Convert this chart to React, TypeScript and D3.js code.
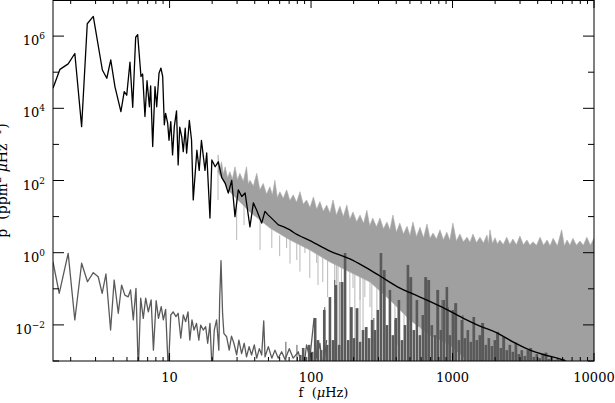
import * as d3 from "d3";

// black spectrum (low-frequency part and smooth fit)
const blackF = [1.5, 1.68, 1.92, 2.14, 2.39, 2.62, 2.89, 3.35, 3.6, 3.84, 4.11, 4.53, 4.78, 4.98, 5.25, 5.49, 5.76, 5.95, 6.28, 6.45, 6.7, 6.93, 7.2, 7.35, 7.6, 7.89, 8.11, 8.42, 8.69, 8.94, 9.18, 9.38, 9.7, 9.91, 10.2, 10.5, 10.8, 11.2, 11.5, 11.8, 12.2, 12.5, 12.9, 13.2, 13.8, 14.3, 14.7, 15.6, 16.2, 16.8, 17.8, 18.3, 19.3, 19.9, 21.0, 22.1, 23.4, 24.7, 26.0, 27.5, 29.0, 30.6, 32.4, 34.2, 37.0, 39.1, 41.3, 44.8, 47.2, 49.9, 54.1, 58.7, 63.6, 71];
const blackP = [3.6e4, 1.2e5, 1.7e5, 3.3e5, 3.1e3, 2.2e6, 3.5e6, 1.15e5, 6.8e4, 2.2e5, 4.0e4, 8.1e3, 2.9e4, 2.3e4, 1.9e5, 1.07e4, 9.3e5, 1.1e6, 7.6e4, 8.9e4, 5.9e3, 5.8e4, 1.1e4, 4.2e4, 8.7e2, 4.0e4, 1.1e4, 9.3e4, 1.3e5, 7.6e4, 3.5e3, 7.2e3, 3.8e3, 1.3e3, 4.3e3, 5.1e2, 3.1e3, 8.5e3, 2.7e2, 3.0e3, 1.6e3, 6.3e2, 2.8e3, 5.7e2, 4.6e3, 1.3e3, 29, 6.9e2, 1.9e2, 1.3e3, 1.9e2, 5.8e2, 9.1, 3.7e2, 2.4e2, 3.3e2, 1.2e2, 85, 45, 1.0e2, 10, 55, 36, 45, 5.2, 24, 15, 6.6, 14, 11, 8.1, 5.9, 5.3, 4.3];
const fitF = [71, 74.5, 100, 136, 188, 233, 307, 425, 525, 815, 1185, 1563, 2061, 2761, 3525, 4499, 6027, 6600];
const fitP = [4.3, 3.74, 2.1, 1.11, 0.67, 0.43, 0.226, 0.105, 0.072, 0.033, 0.0155, 0.0093, 0.006, 0.00316, 0.002, 0.00147, 0.00107, 0.0009];

// light grey spectrum: peaks and troughs of the upper edge, lower edge of the dense band, downward spikes
const lgTopF = [22, 23.3, 24.7, 26.7, 29.0, 31.4, 35.0, 37, 41.3, 45.9, 51.2, 55.5, 60.2, 67.2, 74.8, 83.5, 93.0, 104, 115.5, 129, 143, 160, 179, 198, 222, 248, 273, 307, 344, 379, 424, 477, 525, 589, 660, 728, 815, 911, 1006, 1127, 1266, 1395, 1563, 1752, 1839, 1997, 2157, 2418, 2670, 2993, 3357, 3704, 4156, 4658, 5140, 5907, 6446, 7094, 7950, 8900, 10000];
const lgTopP = [510, 330, 240, 175, 240, 158, 240, 102, 158, 83, 67, 102, 49, 55, 40, 49, 29, 35, 26, 21, 29, 19.4, 21, 13.5, 11, 15, 9.1, 9.1, 7.1, 11, 6.6, 5.4, 7.1, 5.1, 6.2, 3.5, 4.3, 3.7, 6.6, 3.3, 2.7, 3.3, 2.7, 3.1, 4.3, 2.6, 2.25, 2.7, 2.4, 2.9, 2.25, 2.0, 2.7, 2.25, 2.5, 4.3, 2.25, 2.5, 2.1, 2.7, 2.5];
const lgValF = [22.6, 24.0, 25.7, 27.8, 30.2, 33.2, 36.0, 39.1, 43.5, 48.5, 53.3, 57.8, 63.6, 70.9, 79.0, 88.1, 98.3, 109.6, 122, 136, 151, 169, 188, 210, 235, 260, 290, 325, 361, 401, 450, 500, 556, 624, 693, 770, 862, 957, 1065, 1194, 1329, 1477, 1655, 1795, 1916, 2076, 2284, 2541, 2827, 3170, 3526, 3924, 4400, 4893, 5510, 6171, 6762, 7510, 8412, 9434];
const lgValP = [200, 150, 120, 110, 105, 95, 80, 70, 55, 42, 40, 34, 32, 28, 25, 22, 18, 16, 14, 12.5, 11, 10, 8.5, 7.2, 6.5, 5.6, 5.2, 4.6, 4.3, 3.7, 3.3, 3.0, 2.8, 2.6, 2.5, 2.4, 2.3, 2.2, 2.1, 2.0, 1.95, 1.9, 1.85, 1.8, 1.8, 1.75, 1.7, 1.7, 1.65, 1.65, 1.6, 1.6, 1.6, 1.55, 1.55, 1.55, 1.6, 1.6, 1.6, 1.6];
const lgLowF = [22.0, 26.7, 37.0, 51.2, 71, 98, 136, 188, 261, 361, 500, 692, 956, 1563, 2993, 5733, 10000];
const lgLowP = [172, 48, 13.4, 4.8, 2.25, 1.19, 0.55, 0.29, 0.154, 0.049, 0.0137, 0.0052, 0.0028, 0.0005, 0.0005, 0.0005, 0.0005];
const lsF = [22.0, 29.8, 33.6, 43.6, 52.8, 60, 67.2, 71, 79.3, 83.5, 90.5, 98, 109.6, 112, 121, 131, 147, 151, 155, 164, 174, 188, 198, 204, 222, 222, 233, 240, 261, 269, 292, 307, 333, 361, 392, 411, 454, 589, 715, 884, 1055];
const lsTop = [190, 100, 40, 15, 8.1, 3, 4.3, 2.2, 3.1, 2.5, 2.25, 1.2, 1.63, 1.63, 1.19, 0.86, 0.71, 0.71, 0.7, 0.55, 0.46, 0.3, 0.38, 0.38, 0.33, 0.33, 0.29, 0.29, 0.2, 0.175, 0.14, 0.127, 0.1, 0.067, 0.05, 0.036, 0.026, 0.0082, 0.006, 0.0038, 0.0028];
const lsBot = [29, 2.25, 5.8, 1.19, 1.35, 0.8, 1.35, 0.5, 0.63, 0.3, 0.98, 0.2, 0.52, 0.127, 0.154, 0.059, 0.04, 0.0005, 0.0005, 0.127, 0.049, 0.0005, 0.105, 0.0005, 0.049, 0.0005, 0.0038, 0.059, 0.031, 0.0005, 0.0005, 0.026, 0.0005, 0.0166, 0.0005, 0.0028, 0.0005, 0.0005, 0.0005, 0.0005, 0.0005];

// dark grey spectrum: low-frequency line, dense forest of peaks, a few isolated spikes
const dgF = [1.5, 1.66, 1.92, 2.14, 2.39, 2.63, 2.89, 3.13, 3.34, 3.55, 3.83, 4.06, 4.34, 4.58, 4.83, 5.1, 5.3, 5.54, 5.79, 6.01, 6.25, 6.52, 6.78, 7.08, 7.41, 7.69, 8.04, 8.35, 8.73, 9.04, 9.38, 9.8, 10.2, 10.6, 11.1, 11.5, 12.0, 12.5, 13.0, 13.5, 13.9, 14.4, 14.9, 15.5, 16.1, 16.6, 17.3, 18.0, 18.6, 19.3, 20.0, 20.7, 21.5, 22.3, 22.6, 23.1, 23.7, 24.2, 25.3, 26.4, 27.4, 28.5, 29.8, 30.9, 32.3, 33.7, 35.0, 36.5, 38.0, 39.7, 41.3, 43.1, 44.8, 46.3, 47.3, 49.9, 52.8, 55.6, 58.7, 62.0, 65.5, 70.2, 74.8, 81.3, 88.1, 93.0, 98.1, 105, 109.6, 115.5, 121.8, 128.8];
const dgP = [0.56, 0.075, 0.96, 0.0137, 0.51, 0.157, 0.28, 0.216, 0.075, 0.257, 0.0072, 0.175, 0.021, 0.127, 0.067, 0.06, 0.093, 0.0137, 0.103, 0.0005, 0.055, 0.0152, 0.055, 0.023, 0.049, 0.002, 0.047, 0.0152, 0.032, 0.0137, 0.027, 0.0005, 0.0188, 0.023, 0.0169, 0.021, 0.0043, 0.0188, 0.0123, 0.023, 0.0038, 0.0137, 0.0072, 0.011, 0.0038, 0.0099, 0.0072, 0.0089, 0.0031, 0.011, 0.0005, 0.0072, 0.0137, 0.002, 0.049, 0.6, 0.021, 0.0058, 0.0047, 0.002, 0.0049, 0.0031, 0.00147, 0.0038, 0.0016, 0.0031, 0.0013, 0.0025, 0.00147, 0.0028, 0.0012, 0.0022, 0.00147, 0.013, 0.0013, 0.0025, 0.0012, 0.002, 0.0012, 0.0018, 0.0011, 0.0022, 0.0012, 0.0018, 0.0005, 0.0028, 0.0012, 0.0152, 0.0012, 0.0031, 0.0005, 0.0038];
const dfF = [84, 88, 92, 97, 102, 107, 112, 118, 124, 130, 136, 143, 150, 158, 166, 174, 183, 192, 201, 211, 222, 233, 245, 257, 270, 283, 297, 312, 328, 344, 361, 379, 398, 418, 439, 461, 484, 508, 533, 560, 588, 617, 648, 680, 714, 750, 788, 827, 868, 912, 958, 1006, 1056, 1109, 1164, 1222, 1283, 1347, 1415, 1485, 1560, 1638, 1720, 1806, 1896, 1991, 2090, 2195, 2305, 2420, 2541, 2668, 2801, 2941, 3088, 3243, 3405, 3575, 3754, 3942, 4139, 4346, 4563, 4791, 5031, 5282, 5546, 5824, 6115];
const dfP = [0.00147, 0.0023, 0.0013, 0.0028, 0.0018, 0.0155, 0.0038, 0.002, 0.026, 0.0028, 0.059, 0.0038, 0.127, 0.0028, 0.154, 0.98, 0.0038, 0.031, 0.0043, 0.029, 0.0034, 0.0072, 0.0087, 0.0043, 0.0137, 0.0072, 0.026, 0.98, 0.33, 0.0099, 0.093, 0.0052, 0.0155, 0.049, 0.0038, 0.0099, 0.46, 0.21, 0.0072, 0.049, 0.0052, 0.0188, 0.21, 0.175, 0.0099, 0.0052, 0.093, 0.0072, 0.049, 0.112, 0.0052, 0.026, 0.04, 0.0038, 0.0137, 0.0043, 0.0072, 0.0034, 0.0166, 0.0038, 0.0052, 0.0113, 0.0028, 0.0043, 0.0026, 0.0038, 0.0064, 0.0023, 0.0046, 0.002, 0.0028, 0.0018, 0.0032, 0.00156, 0.002, 0.00138, 0.002, 0.0023, 0.0013, 0.00156, 0.0012, 0.00147, 0.0017, 0.00114, 0.0013, 0.00107, 0.0012, 0.00107, 0.00114];
const dsF = [66.4, 79.5, 125, 147, 160, 195, 214, 248, 278, 333, 392, 500, 560, 638, 670, 776, 842, 911, 932, 1039, 1185, 1403, 1608, 2052, 2271, 2840, 3525, 4641];
const dsP = [0.0034, 0.0028, 0.031, 0.175, 0.154, 0.031, 0.029, 0.0087, 0.0155, 0.33, 0.0137, 0.21, 0.049, 0.21, 0.175, 0.093, 0.049, 0.112, 0.031, 0.04, 0.0188, 0.0166, 0.0113, 0.0064, 0.0046, 0.0032, 0.0023, 0.0017];

// axes
const xLabels = ["10", "100", "1000", "10000"];
const yLabelExps = [-2, 0, 2, 4, 6];
const yExps = [-3, -2, -1, 0, 1, 2, 3, 4, 5, 6, 7];

const W = 615;
const H = 403;
const left = 53, right = 594, top = 0, bottom = 361;
const FONT = "'DejaVu Serif', 'Liberation Serif', serif";

const x = d3.scaleLog().domain([1.5, 10000]).range([left, right]);
const y = d3.scaleLog().domain([1e-3, 1e7]).range([bottom, top]);

const zip = (a: number[], b: number[]) => a.map((v, i) => [v, b[i]] as [number, number]);
const line = d3.line<[number, number]>().x((d) => x(d[0])).y((d) => y(d[1]));
const smooth = d3.line<[number, number]>().x((d) => x(d[0])).y((d) => y(d[1])).curve(d3.curveMonotoneX);

export default function App() {
  const upper = [...zip(lgTopF, lgTopP), ...zip(lgValF, lgValP)].sort((a, b) => a[0] - b[0]);
  const lgPoly = [...upper, ...zip(lgLowF, lgLowP).reverse()];
  const xTicks = x.ticks();

  return (
    <svg width={W} height={H} style={{ position: "absolute", left: 0, top: 0, background: "#fff" }}>
      <defs>
        <clipPath id="plot">
          <rect x={left} y={top} width={right - left} height={bottom - top} />
        </clipPath>
      </defs>
      <g clipPath="url(#plot)">
        {/* light grey spectrum */}
        {lsF.map((f, i) => (
          <line key={"ls" + i} x1={x(f)} x2={x(f)} y1={y(lsTop[i])} y2={y(lsBot[i])} stroke="#b8b8b8" strokeWidth={1} />
        ))}
        <path d={line(lgPoly) + "Z"} fill="#a0a0a0" stroke="#adadad" strokeWidth={0.6} />

        {/* dark grey spectrum */}
        {dfF.map((f, i) => (
          <line key={"df" + i} x1={x(f)} x2={x(f)} y1={y(dfP[i])} y2={bottom} stroke="#5a5a5a" strokeWidth={2.6} />
        ))}
        {dsF.map((f, i) => (
          <line key={"ds" + i} x1={x(f)} x2={x(f)} y1={y(dsP[i])} y2={bottom} stroke="#5a5a5a" strokeWidth={1} />
        ))}
        <path d={line(zip(dgF, dgP)) ?? ""} fill="none" stroke="#5a5a5a" strokeWidth={1.3} strokeLinejoin="round" />

        {/* black spectrum */}
        <path d={line(zip(blackF, blackP)) ?? ""} fill="none" stroke="#000" strokeWidth={1.3} strokeLinejoin="round" />
        <path d={smooth(zip(fitF, fitP)) ?? ""} fill="none" stroke="#000" strokeWidth={1.4} />
      </g>

      {/* frame */}
      <rect x={left} y={top + 0.5} width={right - left} height={bottom - top - 0.5} fill="none" stroke="#000" strokeWidth={1} />

      {/* y ticks */}
      {yExps.map((e) => {
        const yy = y(Math.pow(10, e));
        const len = e % 2 === 0 ? 11 : 6;
        return (
          <g key={"yt" + e}>
            <line x1={left} x2={left + len} y1={yy} y2={yy} stroke="#000" />
            <line x1={right - len} x2={right} y1={yy} y2={yy} stroke="#000" />
          </g>
        );
      })}
      {/* x ticks */}
      {xTicks.map((t, i) => {
        const xx = x(t);
        const major = Math.abs(Math.log10(t) - Math.round(Math.log10(t))) < 1e-6;
        const len = major ? 8 : 4;
        return (
          <g key={"xt" + i}>
            <line x1={xx} x2={xx} y1={bottom} y2={bottom - len} stroke="#000" />
            <line x1={xx} x2={xx} y1={top} y2={top + len} stroke="#000" />
          </g>
        );
      })}

      {/* tick labels */}
      <g fontFamily={FONT} fontSize={13} fill="#000">
        {xLabels.map((l) => (
          <text key={l} x={x(+l)} y={bottom + 21} textAnchor="middle">{l}</text>
        ))}
        {yLabelExps.map((e) => (
          <text key={"yl" + e} x={45} y={y(Math.pow(10, e)) + 9} textAnchor="end">
            10<tspan dy={-6} fontSize={9}>{e < 0 ? "\u2212" + -e : e}</tspan>
          </text>
        ))}
      </g>

      {/* axis titles */}
      <text x={(left + right) / 2} y={397} textAnchor="middle" fontFamily={FONT} fontSize={13} style={{ whiteSpace: "pre" }}>
        {"f  ("}<tspan fontStyle="italic">μ</tspan>{"Hz)"}
      </text>
      <text transform={`translate(7, ${(top + bottom) / 2}) rotate(-90)`} textAnchor="middle" fontFamily={FONT} fontSize={14} style={{ whiteSpace: "pre" }}>
        {"p  (ppm"}<tspan dy={-6} fontSize={10}>2</tspan><tspan dy={6}>{" "}</tspan><tspan fontStyle="italic">μ</tspan>{"Hz"}<tspan dy={-6} fontSize={10}>{"\u22121"}</tspan><tspan dy={6}>{")"}</tspan>
      </text>
    </svg>
  );
}
